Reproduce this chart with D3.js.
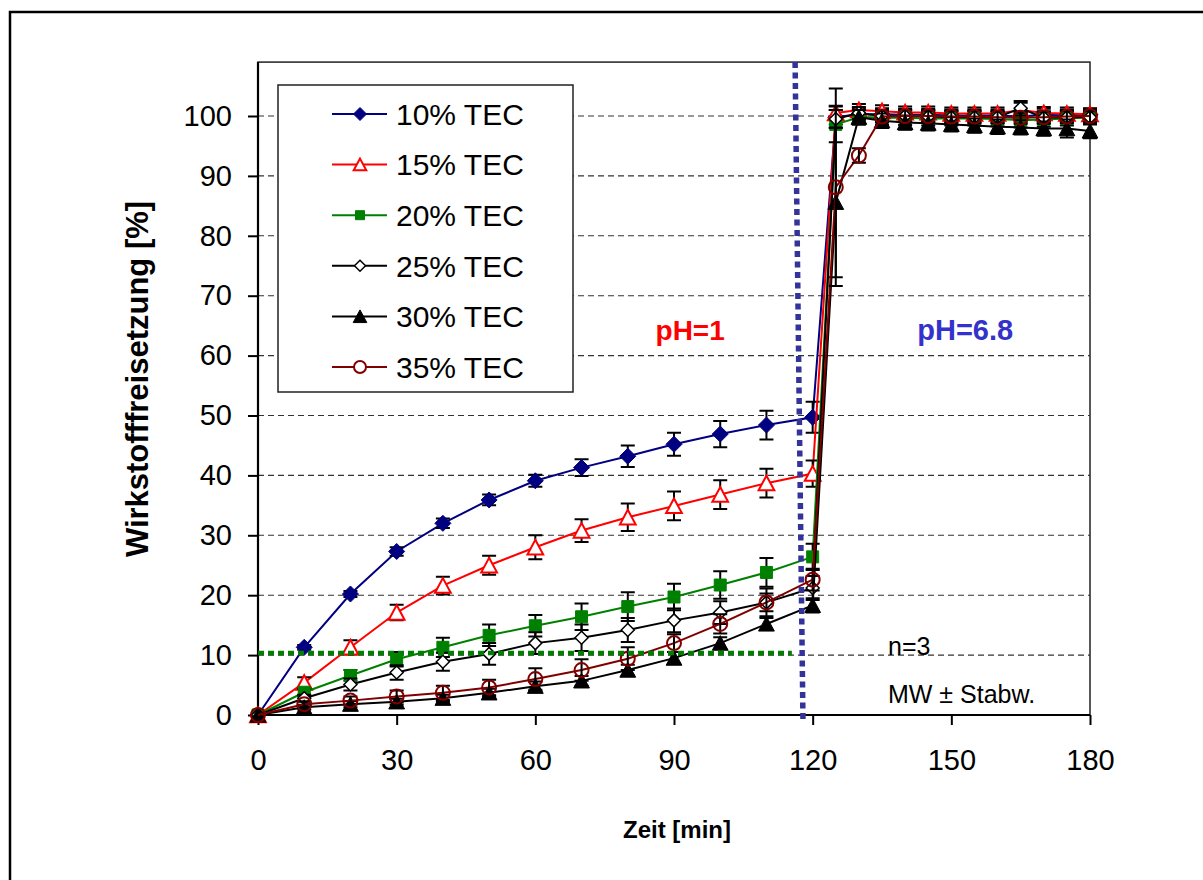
<!DOCTYPE html>
<html>
<head>
<meta charset="utf-8">
<script src="https://cdn.jsdelivr.net/npm/d3@7"></script>
<style>
  body { margin: 0; background: #fff; }
  svg { display: block; font-family: Arial, "Liberation Sans", sans-serif; }
</style>
</head>
<body>
<svg id="chart" width="1203" height="880"></svg>
<script>
// Sampling times [min]
const times = [0, 10, 20, 30, 40, 50, 60, 70, 80, 90, 100, 110, 120,
               125, 130, 135, 140, 145, 150, 155, 160, 165, 170, 175, 180];

// Release [%] per TEC level, mean and standard deviation
const tec10    = [0, 11.3, 20.2, 27.3, 32.0, 35.9, 39.1, 41.3, 43.2, 45.2, 46.9, 48.4, 49.7,
                  99.8, 100.3, 100.3, 100.2, 100.2, 100.1, 100.1, 100.1, 99.9, 100.2, 100.1, 100.2];
const tec10Err = [0, 0.4, 0.5, 0.7, 0.8, 0.9, 1.0, 1.4, 1.8, 1.9, 2.2, 2.4, 2.6,
                  1.2, 1.0, 1.0, 1.0, 1.0, 1.0, 1.0, 1.0, 1.0, 1.0, 1.0, 1.0];
const tec15    = [0, 5.4, 11.3, 17.1, 21.6, 25.0, 28.0, 30.8, 33.0, 34.9, 36.8, 38.7, 40.3,
                  100.5, 101.0, 100.8, 100.6, 100.6, 100.4, 100.4, 100.4, 101.0, 100.5, 100.4, 100.3];
const tec15Err = [0, 0.9, 1.2, 1.3, 1.5, 1.6, 2.0, 1.9, 2.3, 2.4, 2.4, 2.4, 2.2,
                  1.2, 1.0, 1.0, 1.0, 1.0, 1.0, 1.0, 1.0, 1.2, 1.0, 1.0, 1.0];
const tec20    = [0, 3.8, 6.6, 9.3, 11.3, 13.3, 14.9, 16.4, 18.1, 19.7, 21.7, 23.8, 26.4,
                  98.6, 99.8, 99.7, 99.7, 99.6, 99.6, 99.6, 99.5, 99.3, 99.4, 99.6, 99.8];
const tec20Err = [0, 0.6, 0.9, 1.2, 1.6, 1.8, 1.8, 2.2, 2.4, 2.2, 2.3, 2.4, 2.2,
                  3.0, 1.2, 1.2, 1.2, 1.2, 1.2, 1.2, 1.2, 1.2, 1.2, 1.2, 1.2];
const tec25    = [0, 2.8, 5.1, 7.1, 8.9, 10.2, 12.0, 12.9, 14.2, 15.8, 17.1, 18.8, 21.2,
                  99.5, 100.5, 100.0, 100.0, 99.9, 99.8, 99.8, 99.8, 101.3, 99.7, 99.8, 99.8];
const tec25Err = [0, 0.6, 1.0, 1.2, 1.5, 1.8, 1.8, 2.2, 2.0, 2.0, 1.9, 2.3, 2.0,
                  1.5, 1.0, 1.0, 1.0, 1.0, 1.0, 1.0, 1.0, 1.2, 1.0, 1.0, 1.0];
const tec30    = [0, 1.3, 1.8, 2.2, 2.8, 3.7, 4.8, 5.7, 7.5, 9.5, 12.0, 15.2, 18.3,
                  85.6, 99.8, 99.2, 98.9, 98.8, 98.6, 98.4, 98.2, 98.1, 97.9, 97.9, 97.5];
const tec30Err = [0, 0.4, 0.5, 0.5, 0.6, 0.7, 0.8, 0.8, 0.9, 1.0, 1.0, 1.0, 1.2,
                  12.5, 1.2, 1.2, 1.2, 1.2, 1.2, 1.2, 1.2, 1.2, 1.2, 1.5, 1.2];
const tec35    = [0, 1.8, 2.4, 3.1, 3.7, 4.6, 6.0, 7.5, 9.4, 12.0, 15.2, 18.8, 22.6,
                  88.1, 93.4, 99.9, 100.0, 100.0, 99.9, 99.9, 99.8, 99.7, 99.8, 99.9, 100.0];
const tec35Err = [0, 0.5, 0.7, 1.0, 1.2, 1.3, 1.8, 1.8, 1.9, 1.5, 1.6, 1.5, 1.8,
                  16.5, 1.2, 1.0, 1.0, 1.0, 1.0, 1.0, 1.0, 1.0, 1.0, 1.0, 1.0];

const seriesNames = ["10% TEC", "15% TEC", "20% TEC", "25% TEC", "30% TEC", "35% TEC"];

// Axis ticks
const xTicks = [0, 30, 60, 90, 120, 150, 180];
const yTicks = [0, 10, 20, 30, 40, 50, 60, 70, 80, 90, 100];

// Reference markings: 10 % level up to the medium change, and the pH switch
const limitLevel = 10.35;
const limitEnd = 115.5;
const switchLine = [[116.2, 109], [117.9, -0.8]];

const annotations = [
  { text: "pH=1",   t: 93.5, v: 62.6, color: "#ff0000", bold: true,  size: 28, anchor: "middle" },
  { text: "pH=6.8", t: 153,  v: 62.6, color: "#3333cc", bold: true,  size: 29, anchor: "middle" },
  { text: "n=3",         t: 136.3, v: 10.0, color: "#000", bold: false, size: 25, anchor: "start" },
  { text: "MW ± Stabw.", t: 136.3, v: 2.0,  color: "#000", bold: false, size: 25, anchor: "start" }
];

// ---------------------------------------------------------------------------
const svg = d3.select("#chart");
const x = d3.scaleLinear().domain([0, 180]).range([258, 1090]);
const y = d3.scaleLinear().domain([0, 100]).range([715, 116]);
const yTop = 109;

// Marker shapes
const shapes = {
  diamond: s => `M0,${-s}L${s},0L0,${s}L${-s},0Z`,
  triangle: s => `M0,${-s}L${s * 1.05},${s * 0.95}L${-s * 1.05},${s * 0.95}Z`,
  square: s => `M${-s},${-s}H${s}V${s}H${-s}Z`,
  circle: s => d3.arc()({ innerRadius: 0, outerRadius: s, startAngle: 0, endAngle: 2 * Math.PI })
};

const styles = [
  { color: "#000080", shape: "diamond",  size: 8,   fill: "#000080", sw: 1,   lsize: 6.5 },
  { color: "#ff0000", shape: "triangle", size: 7.5, fill: "#fff",    sw: 2,   lsize: 6 },
  { color: "#008000", shape: "square",   size: 6,   fill: "#008000", sw: 1,   lsize: 4.5 },
  { color: "#000000", shape: "diamond",  size: 6.5, fill: "#fff",    sw: 1.5, lsize: 5.5 },
  { color: "#000000", shape: "triangle", size: 7.5, fill: "#000",    sw: 1,   lsize: 6.5 },
  { color: "#800000", shape: "circle",   size: 7,   fill: "none",    sw: 2,   lsize: 6 }
];

const values = [tec10, tec15, tec20, tec25, tec30, tec35];
const errors = [tec10Err, tec15Err, tec20Err, tec25Err, tec30Err, tec35Err];
const series = seriesNames.map((name, i) => ({
  name,
  style: styles[i],
  points: times.map((t, j) => ({ t, v: values[i][j], e: errors[i][j] }))
}));

// Outer frame
svg.append("rect").attr("x", 10).attr("y", 12).attr("width", 1400).attr("height", 1000)
  .attr("fill", "none").attr("stroke", "#000").attr("stroke-width", 2.5);

// Plot area border
svg.append("rect")
  .attr("x", x(0)).attr("y", y(yTop))
  .attr("width", x(180) - x(0)).attr("height", y(0) - y(yTop))
  .attr("fill", "none").attr("stroke", "#222").attr("stroke-width", 1.5);

// Horizontal grid
svg.append("g").selectAll("line").data(yTicks.filter(d => d > 0)).join("line")
  .attr("x1", x(0)).attr("x2", x(180))
  .attr("y1", d => y(d)).attr("y2", d => y(d))
  .attr("stroke", "#333").attr("stroke-width", 1.1).attr("stroke-dasharray", "6,4");

// Axes
const xAxis = svg.append("g").attr("transform", `translate(0,${y(0)})`)
  .call(d3.axisBottom(x).tickValues(xTicks).tickSize(10).tickPadding(24).tickSizeOuter(0));
const yAxis = svg.append("g").attr("transform", `translate(${x(0)},0)`)
  .call(d3.axisLeft(y).tickValues(yTicks).tickSize(10).tickPadding(16).tickSizeOuter(0));
[xAxis, yAxis].forEach(g => {
  g.select(".domain").attr("stroke", "#000").attr("stroke-width", 2.2);
  g.selectAll(".tick line").attr("stroke", "#000").attr("stroke-width", 2);
  g.selectAll(".tick text").attr("font-size", 29).attr("fill", "#000")
    .attr("font-family", "Arial, 'Liberation Sans', sans-serif");
});
yAxis.select(".domain").attr("d", `M0,${y(0)}V${y(yTop)}`);
xAxis.select(".domain").attr("d", `M${x(0)},0H${x(180)}`);

// Axis titles
svg.append("text").attr("x", 677).attr("y", 838).attr("text-anchor", "middle")
  .attr("font-size", 24).attr("font-weight", "bold").text("Zeit [min]");
svg.append("text").attr("transform", "translate(148,379) rotate(-90)").attr("text-anchor", "middle")
  .attr("font-size", 31).attr("font-weight", "bold").text("Wirkstofffreisetzung [%]");

// Series: lines, error bars, markers
const line = d3.line().x(d => x(d.t)).y(d => y(d.v));
const capW = 7;
series.forEach(s => {
  const g = svg.append("g");
  g.append("path").attr("d", line(s.points)).attr("fill", "none")
    .attr("stroke", s.style.color).attr("stroke-width", 2);
  g.append("g").attr("stroke", "#000").attr("stroke-width", 2)
    .selectAll("path").data(s.points.filter(p => p.e > 0)).join("path")
    .attr("d", p => {
      const xx = x(p.t), y1 = y(p.v + p.e), y2 = y(p.v - p.e);
      return `M${xx},${y1}V${y2}M${xx - capW},${y1}H${xx + capW}M${xx - capW},${y2}H${xx + capW}`;
    });
  g.append("g").selectAll("path").data(s.points).join("path")
    .attr("transform", p => `translate(${x(p.t)},${y(p.v)})`)
    .attr("d", shapes[s.style.shape](s.style.size))
    .attr("fill", s.style.fill).attr("stroke", s.style.color).attr("stroke-width", s.style.sw);
});

// 10 % reference level
svg.append("line")
  .attr("x1", x(0)).attr("x2", x(limitEnd))
  .attr("y1", y(limitLevel)).attr("y2", y(limitLevel))
  .attr("stroke", "#008000").attr("stroke-width", 4.5).attr("stroke-dasharray", "6,4");

// Medium change (pH 1 -> pH 6.8)
svg.append("line")
  .attr("x1", x(switchLine[0][0])).attr("y1", y(switchLine[0][1]))
  .attr("x2", x(switchLine[1][0])).attr("y2", y(switchLine[1][1]))
  .attr("stroke", "#333399").attr("stroke-width", 5.5).attr("stroke-dasharray", "6,4.5");

// Text annotations
svg.append("g").selectAll("text").data(annotations).join("text")
  .attr("x", d => x(d.t)).attr("y", d => y(d.v))
  .attr("text-anchor", d => d.anchor)
  .attr("font-size", d => d.size)
  .attr("font-weight", d => d.bold ? "bold" : "normal")
  .attr("fill", d => d.color)
  .text(d => d.text);

// Legend
const legend = svg.append("g");
legend.append("rect").attr("x", 278).attr("y", 85).attr("width", 295).attr("height", 307)
  .attr("fill", "#fff").attr("stroke", "#222").attr("stroke-width", 1.5);
const rowH = 50.6, row0 = 114;
const items = legend.selectAll("g.item").data(series).join("g")
  .attr("class", "item")
  .attr("transform", (d, i) => `translate(0,${row0 + i * rowH})`);
items.append("line").attr("x1", 332).attr("x2", 387)
  .attr("stroke", d => d.style.color).attr("stroke-width", 2);
items.append("path").attr("transform", "translate(360,0)")
  .attr("d", d => shapes[d.style.shape](d.style.lsize))
  .attr("fill", d => d.style.shape === "circle" ? "#fff" : d.style.fill)
  .attr("stroke", d => d.style.color).attr("stroke-width", d => d.style.sw);
items.append("text").attr("x", 396).attr("dy", "0.36em")
  .attr("font-size", 30).attr("fill", "#000").text(d => d.name);
</script>
</body>
</html>
